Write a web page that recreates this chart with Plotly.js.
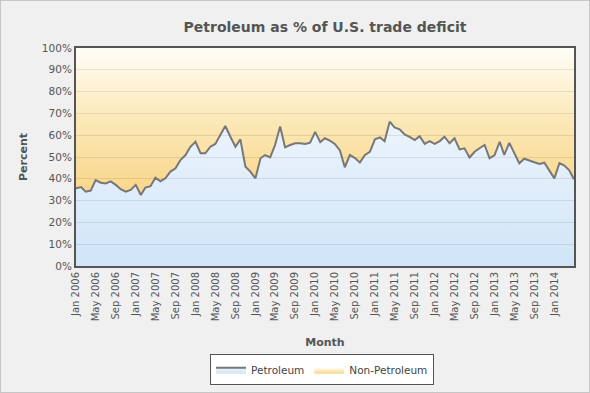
<!DOCTYPE html>
<html>
<head>
<meta charset="utf-8">
<script src="https://cdn.plot.ly/plotly-3.0.1.min.js"></script>
<style>
  html, body { margin: 0; padding: 0; background: #f0f0f0; }
  #chart { width: 588px; height: 391px; border: 1px solid #c6c6c6; }
</style>
</head>
<body>
<div id="chart"></div>
<script>
// Months (Jan 2006 – May 2014)
const months = [
  '2006-01','2006-02','2006-03','2006-04','2006-05','2006-06','2006-07','2006-08','2006-09','2006-10','2006-11','2006-12',
  '2007-01','2007-02','2007-03','2007-04','2007-05','2007-06','2007-07','2007-08','2007-09','2007-10','2007-11','2007-12',
  '2008-01','2008-02','2008-03','2008-04','2008-05','2008-06','2008-07','2008-08','2008-09','2008-10','2008-11','2008-12',
  '2009-01','2009-02','2009-03','2009-04','2009-05','2009-06','2009-07','2009-08','2009-09','2009-10','2009-11','2009-12',
  '2010-01','2010-02','2010-03','2010-04','2010-05','2010-06','2010-07','2010-08','2010-09','2010-10','2010-11','2010-12',
  '2011-01','2011-02','2011-03','2011-04','2011-05','2011-06','2011-07','2011-08','2011-09','2011-10','2011-11','2011-12',
  '2012-01','2012-02','2012-03','2012-04','2012-05','2012-06','2012-07','2012-08','2012-09','2012-10','2012-11','2012-12',
  '2013-01','2013-02','2013-03','2013-04','2013-05','2013-06','2013-07','2013-08','2013-09','2013-10','2013-11','2013-12',
  '2014-01','2014-02','2014-03','2014-04','2014-05'
];

// Petroleum share of U.S. trade deficit (%)
const petroleum = [
  35.6, 36.2, 34.1, 34.6, 39.4, 38.2, 37.9, 38.8, 37.2, 35.2, 34.1, 34.9,
  37.2, 32.6, 36.0, 36.6, 40.5, 38.9, 40.2, 43.3, 44.8, 48.6, 50.9, 54.7,
  57.0, 51.7, 51.7, 54.7, 56.0, 60.0, 64.2, 59.3, 54.7, 58.1, 45.5, 43.3,
  40.2, 49.4, 50.9, 49.8, 55.5, 64.0, 54.4, 55.5, 56.3, 56.3, 56.0, 56.6,
  61.5, 56.8, 58.6, 57.5, 56.0, 53.0, 45.3, 50.9, 49.5, 47.5, 50.9, 52.4,
  58.1, 59.0, 57.2, 66.2, 63.6, 62.7, 60.4, 59.2, 57.8, 59.5, 56.0, 57.3,
  56.0, 57.3, 59.3, 56.3, 58.6, 53.5, 54.0, 49.8, 52.4, 54.0, 55.5, 49.4,
  50.9, 57.0, 51.0, 56.5, 51.7, 47.1, 49.2, 48.3, 47.4, 46.8, 47.4, 44.0,
  40.2, 47.2, 46.2, 44.0, 39.8
];

// Non-petroleum share = remainder to 100%
const nonPetroleum = petroleum.map(v => +(100 - v).toFixed(1));

const seriesNames = ['Petroleum', 'Non-Petroleum'];

// X-axis tick positions and labels (every 4 months)
const tickMonths = ['2006-01','2006-05','2006-09','2007-01','2007-05','2007-09','2008-01','2008-05','2008-09',
  '2009-01','2009-05','2009-09','2010-01','2010-05','2010-09','2011-01','2011-05','2011-09',
  '2012-01','2012-05','2012-09','2013-01','2013-05','2013-09','2014-01'];
const tickLabels = ['Jan 2006','May 2006','Sep 2006','Jan 2007','May 2007','Sep 2007','Jan 2008','May 2008','Sep 2008',
  'Jan 2009','May 2009','Sep 2009','Jan 2010','May 2010','Sep 2010','Jan 2011','May 2011','Sep 2011',
  'Jan 2012','May 2012','Sep 2012','Jan 2013','May 2013','Sep 2013','Jan 2014'];

const fontFam = 'DejaVu Sans, Verdana, sans-serif';

const traces = [
  {
    x: months, y: petroleum, name: seriesNames[0],
    type: 'scatter', mode: 'lines', stackgroup: 'one',
    line: { color: '#777777', width: 2 },
    fillcolor: 'rgba(214,232,248,0.85)',
    fillgradient: {
      type: 'vertical', start: 0, stop: 66,
      colorscale: [[0, 'rgba(198,223,246,0.82)'], [1, 'rgba(232,242,252,0.82)']]
    }
  },
  {
    x: months, y: nonPetroleum, name: seriesNames[1],
    type: 'scatter', mode: 'lines', stackgroup: 'one',
    line: { color: 'rgba(0,0,0,0)', width: 0 },
    fillcolor: 'rgba(245,200,80,0.8)',
    fillgradient: {
      type: 'vertical', start: 35, stop: 100,
      colorscale: [[0, 'rgba(248,206,115,0.82)'], [0.5, 'rgba(251,228,170,0.82)'], [1, 'rgba(255,253,246,0.82)']]
    }
  }
];

const layout = {
  width: 588, height: 391,
  paper_bgcolor: '#f0f0f0',
  plot_bgcolor: '#ffffff',
  margin: { l: 75, r: 15, t: 47, b: 126, autoexpand: false },
  font: { family: fontFam, size: 10.5, color: '#555555' },
  title: {
    text: '<b>Petroleum as % of U.S. trade deficit</b>',
    font: { family: fontFam, size: 14, color: '#555555' },
    x: 0.5, xref: 'paper', xanchor: 'center',
    y: 0.933, yref: 'container', yanchor: 'middle'
  },
  xaxis: {
    type: 'date',
    range: ['2006-01-01', '2014-05-01'],
    tickvals: tickMonths, ticktext: tickLabels,
    tickangle: -90,
    tickfont: { family: fontFam, size: 10, color: '#555555' },
    showgrid: false, zeroline: false, automargin: false,
    showline: true, linecolor: '#555555', linewidth: 2, mirror: true,
    ticks: '',
    title: { text: '<b>Month</b>', font: { family: fontFam, size: 11, color: '#555555' }, standoff: 18 }
  },
  yaxis: {
    range: [0, 100], dtick: 10, ticksuffix: '%',
    tickfont: { family: fontFam, size: 10.5, color: '#555555' },
    showgrid: true, gridcolor: '#8a8a8a', gridwidth: 1,
    zeroline: false, automargin: false,
    showline: true, linecolor: '#555555', linewidth: 2, mirror: true,
    ticks: '',
    title: { text: '<b>Percent</b>', font: { family: fontFam, size: 11, color: '#555555' }, standoff: 12 }
  },
  showlegend: true,
  legend: {
    orientation: 'h',
    x: 0.494, xanchor: 'center',
    y: -0.405, yanchor: 'top',
    bgcolor: '#ffffff', bordercolor: '#555555', borderwidth: 1,
    font: { family: fontFam, size: 10.5, color: '#444444' },
    traceorder: 'normal', itemwidth: 30
  }
};

Plotly.newPlot('chart', traces, layout, { displayModeBar: false, staticPlot: true });
</script>
</body>
</html>
